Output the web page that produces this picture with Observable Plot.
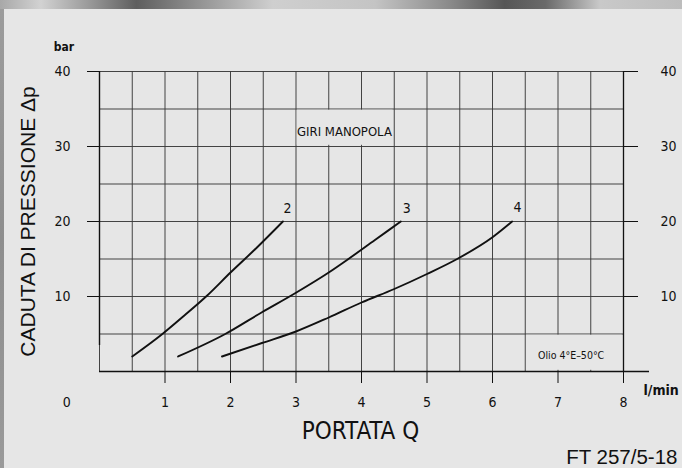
<!DOCTYPE html>
<html>
<head>
<meta charset="utf-8">
<script src="https://cdn.jsdelivr.net/npm/d3@7"></script>
<script src="https://cdn.jsdelivr.net/npm/@observablehq/plot@0.6"></script>
<style>
  html, body { margin: 0; padding: 0; }
  body { width: 682px; height: 468px; background: #e6e6e6; position: relative; overflow: hidden; }
  #topband { position: absolute; left: 0; top: 0; width: 682px; height: 9px;
    background: linear-gradient(to right, #a8a8a8 0%, #d2d2d2 6%, #9a9a9a 13%, #5e5e5e 20%, #8c8c8c 28%, #cfcfcf 40%, #c4c4c4 55%, #8a8a8a 66%, #565656 74%, #6a6a6a 80%, #c9c9c9 88%, #bdbdbd 100%); }
  #leftband { position: absolute; left: 0; top: 9px; width: 4px; height: 459px;
    background: linear-gradient(to bottom, #9c9c9c, #8e8e8e 50%, #9a9a9a); }
  #chart { position: absolute; left: 0; top: 0; }
</style>
</head>
<body>
<div id="topband"></div>
<div id="leftband"></div>
<div id="chart"></div>
<script>
// --- data ---
const flow2 = [0.5, 0.96, 1.3, 1.64, 2.0, 2.4, 2.8];
const dp2   = [2, 5, 7.5, 10.1, 13.2, 16.5, 20];
const flow3 = [1.2, 1.92, 2.48, 2.98, 3.5, 3.8, 4.2, 4.6];
const dp3   = [2, 5, 7.9, 10.4, 13.2, 15, 17.5, 20];
const flow4 = [1.87, 2.48, 2.99, 3.5, 4.0, 4.5, 5.0, 5.46, 6.0, 6.3];
const dp4   = [2, 3.8, 5.3, 7.2, 9.2, 11.0, 13.0, 15, 17.9, 20];

const curveNames  = ["2", "3", "4"];
const labelFlow   = [2.87, 4.69, 6.38];
const labelDp     = [21.7, 21.7, 21.8];

const xTicks = [1, 2, 3, 4, 5, 6, 7, 8];
const yTicks = [10, 20, 30, 40];
const xGrid  = d3.range(0, 8.01, 0.5);
const yGrid  = [5, 10, 15, 20, 25, 30, 35, 40];

const noteGiri = {text: "GIRI MANOPOLA", x: 3.74, y: 31.9, x1: 3.0, x2: 4.5, y1: 30, y2: 35};
const noteOil  = {text: "Olio 4°E–50°C", x: 7.2, y: 2.13, x1: 6.5, x2: 8.0, y1: 0, y2: 5};

// build tables
const curves = [
  ...flow2.map((q, i) => ({q, dp: dp2[i], k: "2"})),
  ...flow3.map((q, i) => ({q, dp: dp3[i], k: "3"})),
  ...flow4.map((q, i) => ({q, dp: dp4[i], k: "4"}))
];
const curveLabels = curveNames.map((n, i) => ({n, q: labelFlow[i], dp: labelDp[i]}));

const narrow = "'Liberation Sans Narrow', 'DejaVu Sans Condensed', 'Arial Narrow', sans-serif";
const regular = "'Liberation Sans', Arial, sans-serif";
const ink = "#111";
const gridInk = "#3a3a3a";

const chart = Plot.plot({
  width: 682,
  height: 468,
  marginLeft: 99,
  marginRight: 59,
  marginTop: 71,
  marginBottom: 97,
  x: {domain: [0, 8]},
  y: {domain: [0, 40]},
  style: {background: "transparent", fontFamily: narrow, color: ink, overflow: "visible"},
  marks: [
    Plot.gridX(xGrid, {stroke: gridInk, strokeOpacity: 0.95, strokeWidth: 1}),
    Plot.gridY(yGrid, {stroke: gridInk, strokeOpacity: 0.95, strokeWidth: 1}),
    // boxes hiding the grid under the notes
    Plot.rect([noteGiri, noteOil], {x1: "x1", x2: "x2", y1: "y1", y2: "y2", fill: "#e6e6e6", inset: 1.2}),
    // axis lines
    Plot.ruleX([0], {y1: 0, y2: 40, stroke: ink, strokeWidth: 1.4, insetTop: -26}),
    Plot.ruleY([0], {x1: 0, x2: 8, stroke: ink, strokeWidth: 1.4, insetRight: -26}),
    Plot.ruleX([8], {y1: 0, y2: 40, stroke: ink, strokeWidth: 1.3}),
    Plot.axisY(yTicks, {anchor: "left", tickSize: 12, tickPadding: 17, fontSize: 14, label: null, stroke: ink, fill: ink}),
    Plot.axisY(yTicks, {anchor: "right", tickSize: 14, tickPadding: 23, fontSize: 14, label: null, stroke: ink, fill: ink}),
    Plot.axisX(xTicks, {anchor: "bottom", tickSize: 12, tickPadding: 14, fontSize: 14, label: null, stroke: ink, fill: ink}),
    Plot.text(["0"], {x: -0.5, y: 0, text: d => d, dy: 31, fontSize: 14, lineAnchor: "middle", fill: ink}),
    // curves
    Plot.line(curves, {x: "q", y: "dp", z: "k", curve: "monotone-x", stroke: ink, strokeWidth: 1.9}),
    Plot.text(curveLabels, {x: "q", y: "dp", text: "n", fontSize: 14, fill: ink, lineAnchor: "middle"}),
    // notes
    Plot.text([noteGiri], {x: "x", y: "y", text: "text", fontSize: 13, fill: ink, lineAnchor: "middle"}),
    Plot.text([noteOil], {x: "x", y: "y", text: "text", fontSize: 10.5, fill: ink, lineAnchor: "middle"}),
    // axis titles and units
    Plot.text(["bar"], {frameAnchor: "top-left", text: d => d, dx: -35.5, dy: -24, fontSize: 12, fontWeight: "bold", textAnchor: "middle", fill: ink, lineAnchor: "middle"}),
    Plot.text(["l/min"], {frameAnchor: "bottom-right", text: d => d, dx: 20, dy: 19, fontSize: 14, fontWeight: "bold", textAnchor: "start", fill: ink, lineAnchor: "middle"}),
    Plot.text(["CADUTA DI PRESSIONE Δp"], {frameAnchor: "left", text: d => d, rotate: -90, dx: -71.5, dy: 0, fontSize: 21, fontFamily: regular, textAnchor: "middle", fill: ink, lineAnchor: "middle"}),
    Plot.text(["PORTATA Q"], {frameAnchor: "bottom", text: d => d, dx: -1, dy: 59.5, fontSize: 24, fill: ink, textAnchor: "middle", lineAnchor: "middle"}),
    Plot.text(["FT 257/5-18"], {frameAnchor: "bottom-right", text: d => d, dx: 54, dy: 85.7, fontSize: 20.5, fontFamily: regular, textAnchor: "end", fill: ink, lineAnchor: "middle"})
  ]
});
document.getElementById("chart").appendChild(chart);
</script>
</body>
</html>
